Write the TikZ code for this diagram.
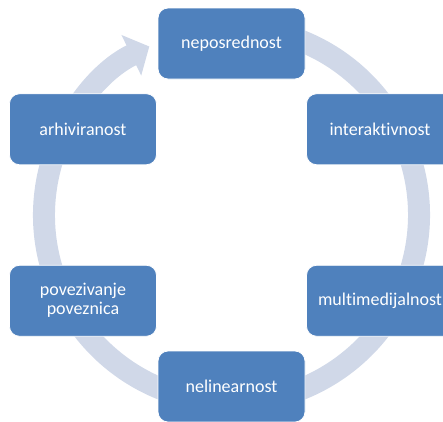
\documentclass[tikz,border=0pt]{standalone}
\usepackage{fontspec}
\setmainfont{Carlito}[RawFeature={-liga;-clig;-calt;-dlig}]
\usetikzlibrary{arrows.meta}
\definecolor{cBox}{RGB}{79,129,189}
\definecolor{cRing}{RGB}{208,216,232}
\tikzset{
	item/.style={rectangle, rounded corners=10pt, minimum width=147pt, minimum height=71pt, text centered, align=center, draw=white, line width=0.8pt, fill=cBox, text=white, font=\fontsize{18}{19}\selectfont},
	ring/.style={cRing, line width=22pt, -{Triangle[width=44pt, length=20pt]}},
}
\begin{document}
\begin{tikzpicture}[x=1pt, y=1pt]
	\useasboundingbox (-231.5,-206) rectangle (211.5,215);
	% circular arrow behind the boxes
	\draw[ring] (80:187.5) arc[start angle=80, end angle=-244, radius=187.5];
	\foreach \n/\a/\l in {
		nep/90/{neposrednost},
		int/30/{interaktivnost},
		mul/-30/{multimedijalnost},
		nel/-90/{nelinearnost},
		pov/-150/{povezivanje\\poveznica},
		arh/150/{arhiviranost}} {
		\node[item] (\n) at (\a:171.5) {\l};
	}
\end{tikzpicture}
\end{document}
